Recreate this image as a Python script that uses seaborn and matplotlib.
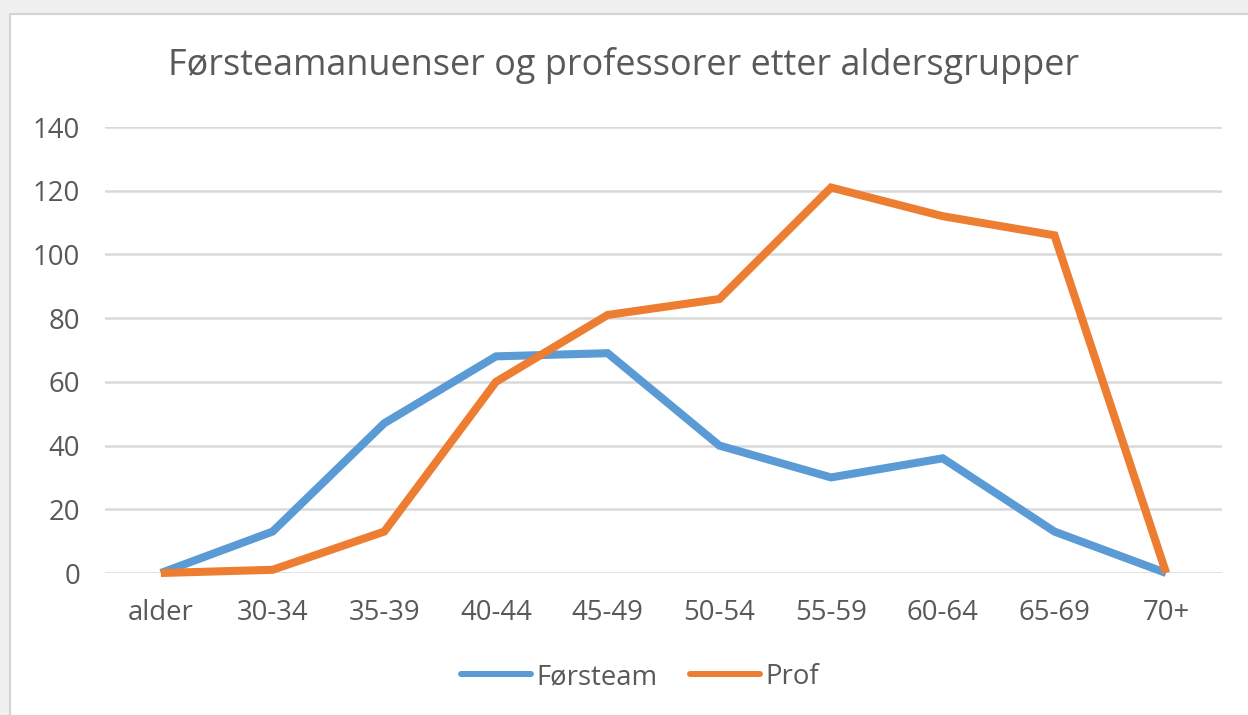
import matplotlib
matplotlib.use("Agg")
import matplotlib.pyplot as plt
import seaborn as sns
import pandas as pd
from matplotlib.patches import Rectangle

# data
age_groups = ["alder", "30-34", "35-39", "40-44", "45-49", "50-54", "55-59", "60-64", "65-69", "70+"]
forsteam = [0, 13, 47, 68, 69, 40, 30, 36, 13, 0]
prof = [0, 1, 13, 60, 81, 86, 121, 112, 106, 0]
series_names = ["Førsteam", "Prof"]
colors = ["#5b9bd5", "#ed7d31"]

df = pd.DataFrame({
    "gruppe": age_groups * 2,
    "pos": list(range(len(age_groups))) * 2,
    "antall": forsteam + prof,
    "serie": [series_names[0]] * len(age_groups) + [series_names[1]] * len(age_groups),
})

sns.set_style("white")
plt.rcParams["font.family"] = ["Open Sans", "DejaVu Sans"]
text_col = "#595959"
small = 19.8

fig = plt.figure(figsize=(12.48, 7.15), dpi=100, facecolor="#f0f0f0")
# white chart area with thin border
fig.patches.append(Rectangle((10 / 1248, -0.01), 1.0, 1 - 14 / 715 + 0.01, transform=fig.transFigure,
                             facecolor="white", edgecolor="#d4d4d4", linewidth=1.5, zorder=-10))

ax = fig.add_axes([105 / 1248, 1 - 573 / 715, (1222 - 105) / 1248, (573 - 127) / 715])
ax.set_facecolor("none")

sns.lineplot(data=df, x="pos", y="antall", hue="serie", palette=colors, linewidth=5.8,
             sort=False, ax=ax, legend=False)
for ln in ax.lines:
    ln.set_solid_joinstyle("miter")
    ln.set_solid_capstyle("butt")
    ln.set_clip_on(False)

ax.set_xlim(-0.5, len(age_groups) - 0.5)
ax.set_ylim(0, 140)
ax.set_yticks(range(0, 141, 20))
ax.set_xticks(range(len(age_groups)))
ax.set_xticklabels(age_groups)
ax.set_xlabel("")
ax.set_ylabel("")
ax.grid(axis="y", color="#d9d9d9", linewidth=1.8)
ax.set_axisbelow(True)
for s in ax.spines.values():
    s.set_visible(False)
ax.tick_params(axis="both", length=0, labelsize=small, colors=text_col)
ax.tick_params(axis="y", pad=18)
ax.tick_params(axis="x", pad=19)

fig.text(0.5, 1 - 66 / 715, "Førsteamanuenser og professorer etter aldersgrupper",
         ha="center", va="center", fontsize=25.9, color=text_col)

handles = [plt.Line2D([], [], color=c, linewidth=4.3, solid_capstyle="round") for c in colors]
leg = fig.legend(handles, series_names, loc="center", bbox_to_anchor=(640 / 1248, 1 - 677 / 715),
                 ncol=2, frameon=False, fontsize=small, handlelength=2.55, handletextpad=0.17,
                 columnspacing=1.2)
for t in leg.get_texts():
    t.set_color(text_col)

fig.savefig("out.png", dpi=100, facecolor=fig.get_facecolor())
